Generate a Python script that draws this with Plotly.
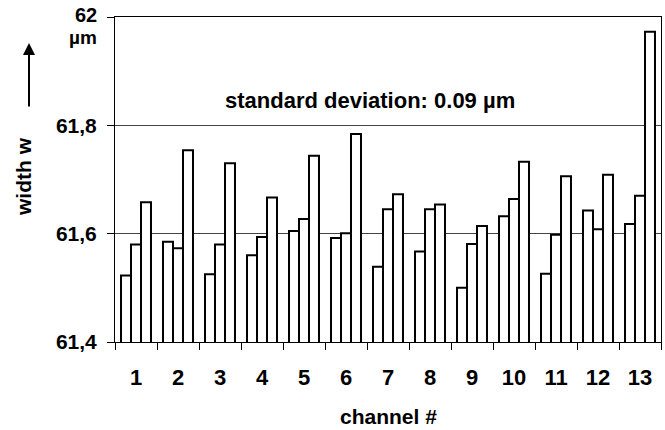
import plotly.graph_objects as go

channels = [str(i) for i in range(1, 14)]
bar_a = [61.523, 61.585, 61.525, 61.560, 61.605, 61.592, 61.539, 61.567, 61.500, 61.632, 61.526, 61.643, 61.618]
bar_b = [61.580, 61.573, 61.580, 61.594, 61.627, 61.601, 61.645, 61.645, 61.581, 61.664, 61.598, 61.608, 61.670]
bar_c = [61.658, 61.754, 61.730, 61.667, 61.744, 61.784, 61.673, 61.654, 61.614, 61.733, 61.706, 61.709, 61.973]
y_tickvals = [61.4, 61.6, 61.8, 62.0]
y_ticktext = ["61,4", "61,6", "61,8", ""]
top_label = "62"
unit_label = "µm"

FONT = "Liberation Sans, Arial, sans-serif"

fig = go.Figure()
for vals in (bar_a, bar_b, bar_c):
    fig.add_trace(go.Bar(
        x=channels, y=vals,
        marker=dict(color="white", line=dict(color="black", width=2)),
        showlegend=False, hoverinfo="skip",
    ))

fig.update_layout(
    width=665, height=430,
    margin=dict(l=115, r=4, t=17, b=88),
    paper_bgcolor="white", plot_bgcolor="white",
    barmode="group", bargap=0.286, bargroupgap=0,
    font=dict(family=FONT, color="black"),
)

fig.update_xaxes(
    type="category",
    tickson="boundaries",
    ticks="outside", ticklen=7, tickwidth=1, tickcolor="black",
    showline=True, linecolor="black", linewidth=1, mirror=True,
    showgrid=False,
    tickfont=dict(family=FONT, size=22, weight="bold", color="black"),
    ticklabelstandoff=16,
)
fig.update_yaxes(
    range=[61.4, 62.0],
    tickvals=y_tickvals, ticktext=y_ticktext,
    ticks="outside", ticklen=7, tickwidth=1, tickcolor="black",
    showline=True, linecolor="black", linewidth=1, mirror=True,
    showgrid=True, gridcolor="#444444", gridwidth=1,
    zeroline=False,
    tickfont=dict(family=FONT, size=21, weight="bold", color="black"),
    ticklabelstandoff=6,
)

PLOT_TOP, PLOT_H, PLOT_L, PLOT_W = 17, 325, 115, 546
def px(xp):
    return (xp - PLOT_L) / PLOT_W
def py(yp):
    return (PLOT_TOP + PLOT_H - yp) / PLOT_H

# top tick label "62" and unit below it
fig.add_annotation(
    text=top_label, xref="paper", yref="paper",
    x=px(98), y=py(27), xanchor="right", yanchor="bottom",
    showarrow=False, font=dict(family=FONT, size=20, weight="bold"),
    borderpad=0,
)
fig.add_annotation(
    text=unit_label, xref="paper", yref="paper",
    x=px(98), y=py(26), xanchor="right", yanchor="top",
    showarrow=False, font=dict(family=FONT, size=19, weight="bold"),
    borderpad=0,
)
# standard deviation label
fig.add_annotation(
    text="standard deviation: 0.09 µm", xref="paper", yref="y",
    x=px(370), y=61.846, xanchor="center", yanchor="middle",
    showarrow=False, font=dict(family=FONT, size=22, weight="bold"),
)
# y axis title
fig.add_annotation(
    text="width w", xref="paper", yref="paper",
    x=px(23), y=py(177), xanchor="center", yanchor="middle",
    textangle=-90, showarrow=False, font=dict(family=FONT, size=21, weight="bold"),
)
# arrow
fig.add_annotation(
    text="", xref="paper", yref="paper",
    x=px(29), y=py(43),
    ax=0, ay=65, axref="pixel", ayref="pixel",
    showarrow=True, arrowhead=2, arrowsize=1.2, arrowwidth=2, arrowcolor="black",
)
# x axis title
fig.add_annotation(
    text="channel #", xref="paper", yref="paper",
    x=0.5, y=py(416), xanchor="center", yanchor="middle",
    showarrow=False, font=dict(family=FONT, size=21, weight="bold"),
)

fig.write_html(
    "out.html",
    config={"displayModeBar": False},
    post_script="document.body.style.margin='0';document.body.style.overflow='hidden';",
)
